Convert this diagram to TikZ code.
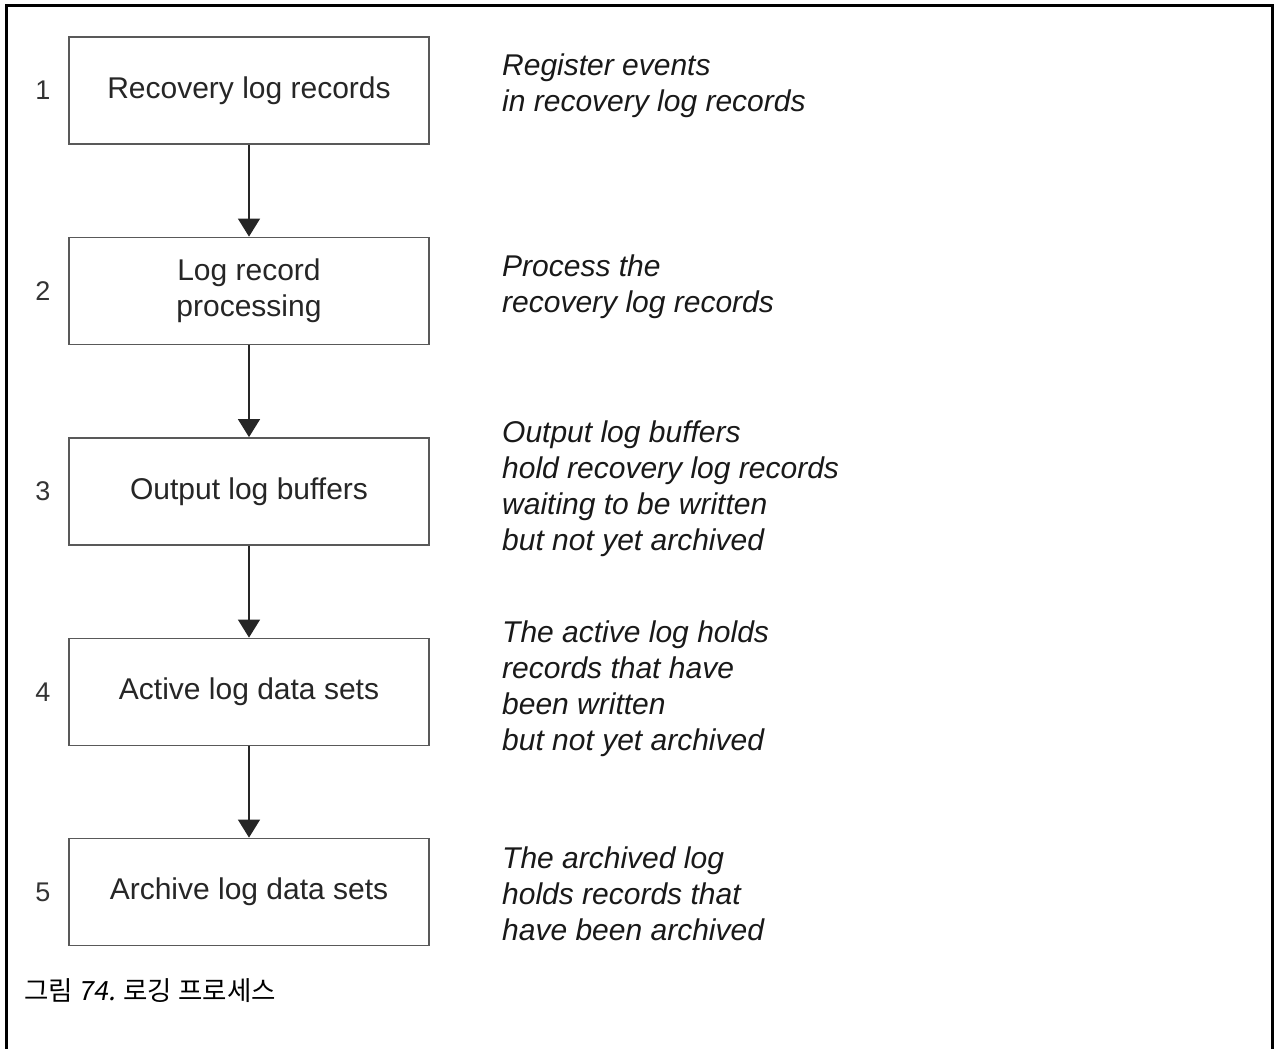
\documentclass[tikz,border=0pt]{standalone}
\usepackage{fontspec}
\setmainfont{Liberation Sans}
\newfontfamily\cjkfont{Noto Sans CJK KR}
\newfontfamily\cjkslant[FakeSlant=0.18]{Noto Sans CJK KR}
\usetikzlibrary{arrows.meta}
\begin{document}
\begin{tikzpicture}[x=1pt,y=-1pt,
  stepbox/.style={draw=black!65,line width=1.8pt,minimum width=360pt,minimum height=107pt,
    inner sep=0pt,align=center,font=\fontsize{30}{36}\selectfont,text=black!85},
  numlabel/.style={font=\fontsize{27}{32}\selectfont,text=black!80},
  desc/.style={anchor=west,align=left,inner sep=0pt,font=\fontsize{30}{36}\selectfont\itshape,text=black!90},
  flow/.style={draw=black!85,line width=1.3pt,-{Triangle[width=22pt,length=18pt]}}]
\useasboundingbox (0,0) rectangle (1274,1049);
\fill[white] (0,0) rectangle (1274,1049);
\draw[line width=3pt,black] (6.5,1049) -- (6.5,6) -- (1272.5,6) -- (1272.5,1049);

\node[stepbox] (b1) at (249,90.5) {Recovery log records};
\node[stepbox] (b2) at (249,291) {Log record\\processing};
\node[stepbox] (b3) at (249,491.5) {Output log buffers};
\node[stepbox] (b4) at (249,692) {Active log data sets};
\node[stepbox] (b5) at (249,892) {Archive log data sets};

\node[numlabel] (n1) at (43,90.5) {1};
\node[numlabel] (n2) at (43,291) {2};
\node[numlabel] (n3) at (43,491.5) {3};
\node[numlabel] (n4) at (43,692) {4};
\node[numlabel] (n5) at (43,892) {5};

\draw[flow] (b1.south) -- (b2.north);
\draw[flow] (b2.south) -- (b3.north);
\draw[flow] (b3.south) -- (b4.north);
\draw[flow] (b4.south) -- (b5.north);

\node[desc] (d1) at (502,86) {Register events\\in recovery log records};
\node[desc] (d2) at (502,287) {Process the\\recovery log records};
\node[desc] (d3) at (502,489) {Output log buffers\\hold recovery log records\\waiting to be written\\but not yet archived};
\node[desc] (d4) at (502,689) {The active log holds\\records that have\\been written\\but not yet archived};
\node[desc] (d5) at (502,894) {The archived log\\holds records that\\have been archived};

\node[anchor=west,inner sep=0pt,font=\fontsize{26.5}{31}\selectfont\cjkfont] (cap) at (24,991) {그림 {\cjkslant 74.} 로깅 프로세스};
\end{tikzpicture}
\end{document}
